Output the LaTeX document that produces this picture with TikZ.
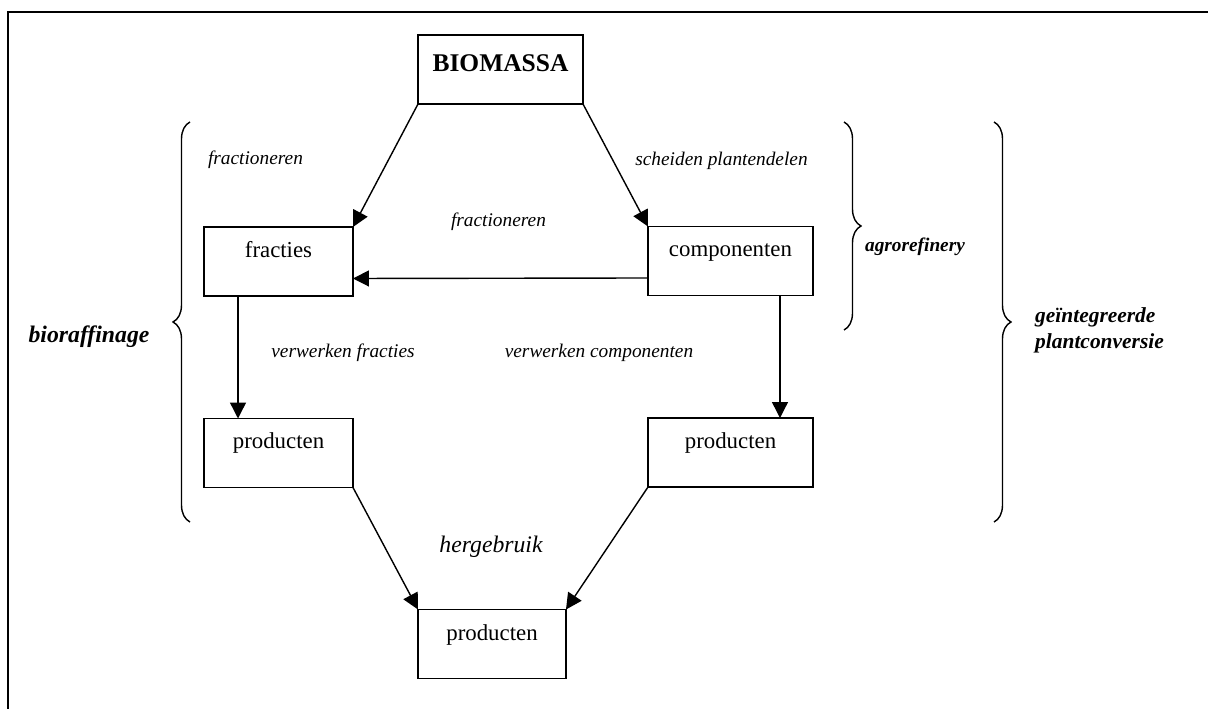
\documentclass[tikz,border=0pt]{standalone}
\usepackage{fontspec}
\setmainfont{Liberation Serif}
\usetikzlibrary{arrows.meta, decorations.pathreplacing}

\begin{document}
\begin{tikzpicture}[x=0.02cm, y=-0.02cm,
    box/.style={draw, line width=0.8pt, inner sep=0pt, outer sep=0pt,
                minimum height=1.38cm, text height=0.34cm, text depth=0.5cm,
                font=\fontsize{13}{15}\selectfont},
    arrow/.style={-{Triangle[length=0.32cm, width=0.32cm]}, line width=0.8pt},
    note/.style={font=\fontsize{11}{13}\selectfont\itshape},
    term/.style={font=\fontsize{13.5}{16}\selectfont\bfseries\itshape, align=left},
    curly/.style={decorate, decoration={brace, amplitude=0.34cm}, line width=0.8pt}
]
\useasboundingbox (0,0) rectangle (1208,709);

% Frame
\draw[line width=1.4pt] (1208,12) -- (8,12) -- (8,709);

% Top: biomass
\node[box, minimum width=3.3cm, text height=0.4cm, text depth=0.3cm,
      font=\fontsize{14.5}{17}\selectfont\bfseries] (bio) at (500.5,69.5) {BIOMASSA};

% Second row
\node[box, minimum width=2.98cm] (fr) at (278.5,261.5) {fracties};
\node[box, minimum width=3.3cm] (co) at (730.5,261) {componenten};

% Third row
\node[box, minimum width=2.98cm] (pl) at (278.5,453) {producten};
\node[box, minimum width=3.3cm] (pr) at (730.5,452.5) {producten};

% Bottom
\node[box, minimum width=2.96cm] (pb) at (492,644) {producten};

% Arrows
\draw[arrow] (bio.south west) -- (fr.north east);
\draw[arrow] (bio.south east) -- (co.north west);
\draw[arrow] ([yshift=-0.34cm]co.west) -- ([yshift=-0.34cm]fr.east);
\draw[arrow] ([xshift=-0.81cm]fr.south) -- ([xshift=-0.81cm]pl.north);
\draw[arrow] ([xshift=0.99cm]co.south) -- ([xshift=0.99cm]pr.north);
\draw[arrow] (pl.south east) -- (pb.north west);
\draw[arrow] (pr.south west) -- (pb.north east);

% Step labels
\node[note] (n1) at (255.5,160) {fractioneren};
\node[note] (n2) at (721.5,161) {scheiden plantendelen};
\node[note] (n3) at (498.5,222) {fractioneren};
\node[note] (n4) at (343,353) {verwerken fracties};
\node[note] (n5) at (599,353) {verwerken componenten};
\node[note, font=\fontsize{13.5}{16}\selectfont\itshape] (n6) at (491,547) {hergebruik};

% Braces
\coordinate (lb1) at (190,522);
\coordinate (lb2) at (190,122);
\draw[curly] (lb1) -- (lb2);
\node[term] (t1) at (89,337) {bioraffinage};

\coordinate (rb1) at (844,122);
\coordinate (rb2) at (844,330);
\draw[curly] (rb1) -- (rb2);
\node[term, font=\fontsize{11}{13}\selectfont\bfseries\itshape] (t2) at (915,247) {agrorefinery};

\coordinate (gb1) at (994,122);
\coordinate (gb2) at (994,522);
\draw[curly] (gb1) -- (gb2);
\node[term, anchor=west, font=\fontsize{12.2}{14.5}\selectfont\bfseries\itshape] (t3) at (1029,330.5)
    {geïntegreerde\\plantconversie};

\end{tikzpicture}
\end{document}
